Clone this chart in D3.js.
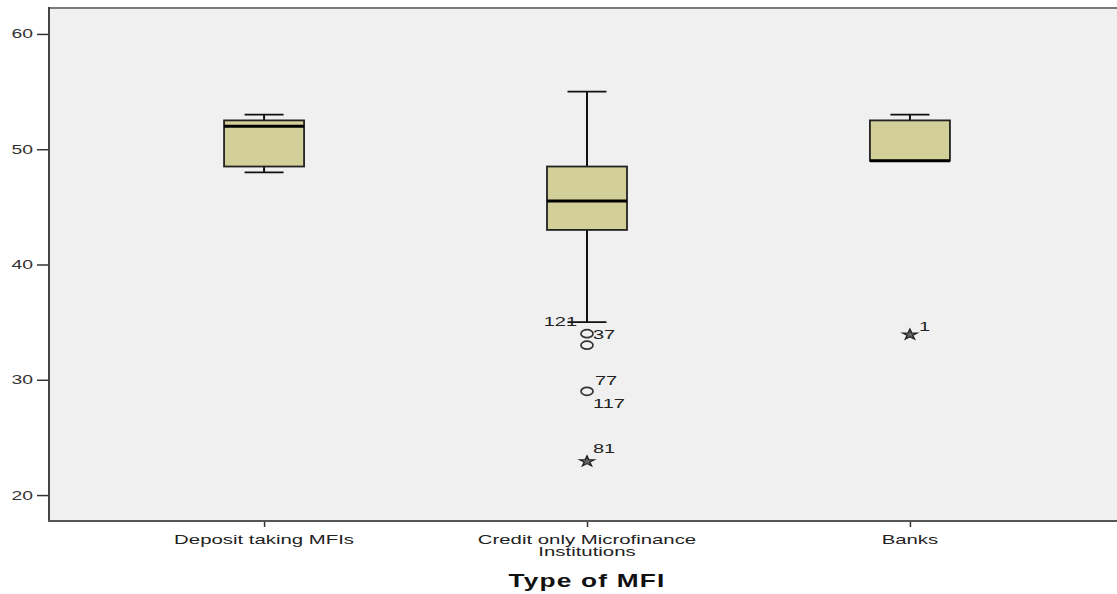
<!DOCTYPE html>
<html>
<head>
<meta charset="utf-8">
<script src="https://cdn.jsdelivr.net/npm/d3@7"></script>
<style>
  body { margin: 0; background: #fff; }
  svg text { font-family: "Liberation Sans", Arial, sans-serif; fill: #222; }
</style>
</head>
<body>
<div id="box-chart"></div>
<script>
// Box plot data

const categories = ["Deposit taking MFIs", "Credit only Microfinance Institutions", "Banks"];
const whiskerLow = [48, 35, 49];
const q1 = [48.5, 43, 49];
const median = [52, 45.5, 49];
const q3 = [52.5, 48.5, 52.5];
const whiskerHigh = [53, 55, 53];

const outliers = [
  { cat: 1, value: 34, kind: "circle", label: "37" },
  { cat: 1, value: 33, kind: "circle", label: "" },
  { cat: 1, value: 29, kind: "circle", label: "77" },
  { cat: 1, value: 29, kind: "none", label: "117" },
  { cat: 1, value: 23, kind: "star", label: "81" },
  { cat: 1, value: 35, kind: "none", label: "121" },
  { cat: 2, value: 34, kind: "star", label: "1" }
];

const yTicks = [20, 30, 40, 50, 60];

// label offsets, keyed by label
const labelOffsets = {
  "37": [6, 5, "start"],
  "77": [8, -6, "start"],
  "117": [6, 17, "start"],
  "81": [6, -7, "start"],
  "121": [-10, 4, "end"],
  "1": [9, -3, "start"]
};

const drawChart = () => {
  const width = 1117;
  const height = 594;
  const left = 49, top = 8, bottom = 521, right = 1125;

  const xScale = d3.scalePoint()
                   .domain(d3.range(categories.length))
                   .range([left, right])
                   .padding(0.666);

  const yScale = d3.scaleLinear()
                   .domain([17.75, 62.25])
                   .range([bottom, top]);

  const svg = d3.select("#box-chart")
                .append("svg")
                .attr("width", width)
                .attr("height", height);

  // the source text is drawn wide, so stretch it
  const addText = (x, y, str, size, anchor, stretch = 1.6) =>
    svg.append("text")
       .attr("transform", `translate(${x},${y}) scale(${stretch},1)`)
       .attr("text-anchor", anchor)
       .attr("font-size", size)
       .text(str);

  svg.append("rect")
     .attr("x", left).attr("y", top)
     .attr("width", right - left).attr("height", bottom - top)
     .attr("fill", "#f0f0f0");

  // top border
  svg.append("line")
     .attr("x1", left).attr("x2", right)
     .attr("y1", top).attr("y2", top)
     .attr("stroke", "#7a7a7a").attr("stroke-width", 2);

  // y axis
  const yAxis = d3.axisLeft(yScale).tickValues(yTicks).tickSize(12).tickFormat("");
  const gy = svg.append("g").attr("transform", `translate(${left},0)`).call(yAxis);
  gy.select(".domain").remove();
  gy.selectAll(".tick line").attr("stroke", "#333").attr("stroke-width", 1.5);
  yTicks.forEach((t) => {
    addText(33, yScale(t) + 4.5, t, 12.5, "end", 1.55).style("fill", "#333");
  });
  svg.append("line")
     .attr("x1", left).attr("x2", left)
     .attr("y1", top - 1).attr("y2", bottom + 1)
     .attr("stroke", "#444").attr("stroke-width", 2);

  // x axis
  const xAxis = d3.axisBottom(xScale).tickSize(6).tickFormat("");
  const gx = svg.append("g").attr("transform", `translate(0,${bottom})`).call(xAxis);
  gx.select(".domain").remove();
  gx.selectAll(".tick line").attr("stroke", "#333").attr("stroke-width", 1.5);
  svg.append("line")
     .attr("x1", left - 1).attr("x2", right)
     .attr("y1", bottom).attr("y2", bottom)
     .attr("stroke", "#555").attr("stroke-width", 2);

  // category labels (long ones wrap)
  categories.forEach((c, i) => {
    const lines = c === "Credit only Microfinance Institutions"
      ? ["Credit only Microfinance", "Institutions"] : [c];
    lines.forEach((t, j) => {
      addText(xScale(i), 544 + j * 12, t, 12.5, "middle", 1.63);
    });
  });

  addText(xScale(1), 587, "Type of MFI", 17.5, "middle", 1.5)
     .attr("font-weight", "bold")
     .attr("letter-spacing", 0.8)
     .style("fill", "#111");

  const boxW = 80, capW = 39;

  const boxes = svg.selectAll("g.box")
                   .data(categories.map((c, i) => i))
                   .enter()
                   .append("g")
                   .attr("class", "box");

  // whiskers
  boxes.append("line")
       .attr("x1", (i) => xScale(i)).attr("x2", (i) => xScale(i))
       .attr("y1", (i) => yScale(whiskerHigh[i])).attr("y2", (i) => yScale(q3[i]))
       .attr("stroke", "#111").attr("stroke-width", 2);
  boxes.append("line")
       .attr("x1", (i) => xScale(i)).attr("x2", (i) => xScale(i))
       .attr("y1", (i) => yScale(whiskerLow[i])).attr("y2", (i) => yScale(q1[i]))
       .attr("stroke", "#111").attr("stroke-width", 2);
  boxes.append("line")
       .attr("x1", (i) => xScale(i) - capW / 2).attr("x2", (i) => xScale(i) + capW / 2)
       .attr("y1", (i) => yScale(whiskerHigh[i])).attr("y2", (i) => yScale(whiskerHigh[i]))
       .attr("stroke", "#111").attr("stroke-width", 1.8);
  boxes.filter((i) => whiskerLow[i] < q1[i])
       .append("line")
       .attr("x1", (i) => xScale(i) - capW / 2).attr("x2", (i) => xScale(i) + capW / 2)
       .attr("y1", (i) => yScale(whiskerLow[i])).attr("y2", (i) => yScale(whiskerLow[i]))
       .attr("stroke", "#111").attr("stroke-width", 1.8);

  // boxes
  boxes.append("rect")
       .attr("x", (i) => xScale(i) - boxW / 2)
       .attr("y", (i) => yScale(q3[i]))
       .attr("width", boxW)
       .attr("height", (i) => yScale(q1[i]) - yScale(q3[i]))
       .attr("fill", "#d3cf99")
       .attr("stroke", "#222")
       .attr("stroke-width", 1.8);

  boxes.append("line")
       .attr("x1", (i) => xScale(i) - boxW / 2).attr("x2", (i) => xScale(i) + boxW / 2)
       .attr("y1", (i) => yScale(median[i])).attr("y2", (i) => yScale(median[i]))
       .attr("stroke", "#000").attr("stroke-width", 3);

  // outliers
  const star = d3.symbol().type(d3.symbolStar).size(34);
  outliers.forEach((d) => {
    const cx = xScale(d.cat), cy = yScale(d.value);
    if (d.kind === "circle") {
      svg.append("ellipse")
         .attr("cx", cx).attr("cy", cy)
         .attr("rx", 6).attr("ry", 4)
         .attr("fill", "none")
         .attr("stroke", "#333").attr("stroke-width", 1.7);
    } else if (d.kind === "star") {
      svg.append("path")
         .attr("d", star())
         .attr("transform", `translate(${cx},${cy + 1}) scale(1.4,1)`)
         .attr("fill", "#666")
         .attr("stroke", "#222").attr("stroke-width", 1.1);
    }
    if (d.label) {
      const off = labelOffsets[d.label];
      addText(cx + off[0], cy + off[1], d.label, 12.5, off[2]);
    }
  });
}

drawChart();
</script>
</body>
</html>
